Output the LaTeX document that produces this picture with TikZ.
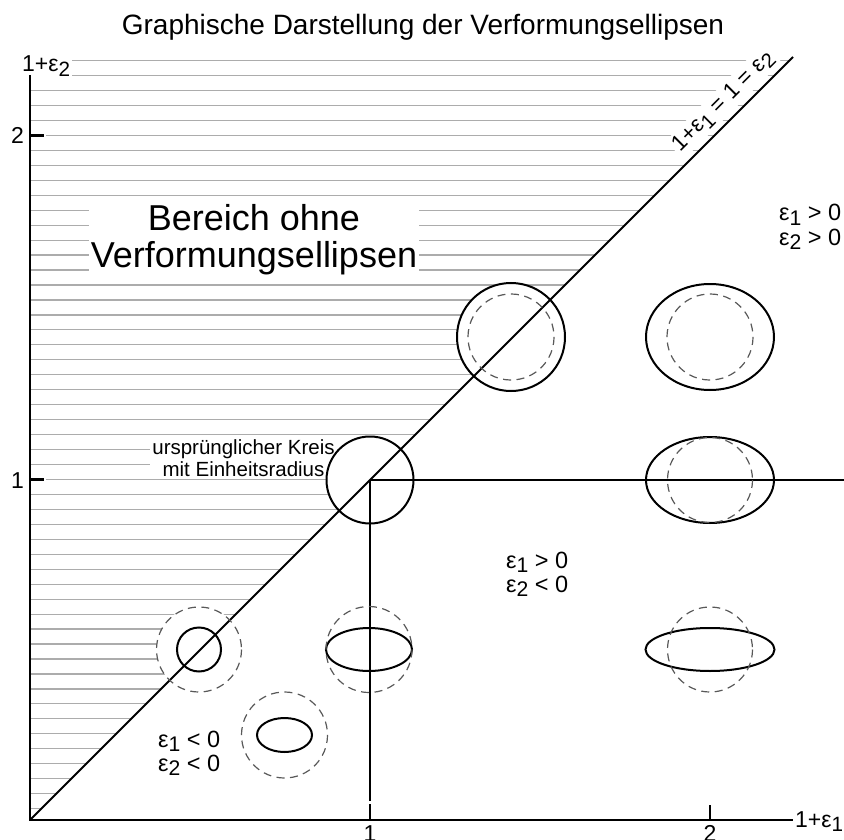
\documentclass[tikz,border=0pt]{standalone}
\usepackage{fontspec}
\setmainfont{Liberation Sans}
\usepackage{graphicx}
\newcommand{\sbd}[1]{\raisebox{-0.2em}{\scalebox{0.9}{#1}}}
\begin{document}
\begin{tikzpicture}[x=1pt,y=-1pt,
  hatch/.style={draw=gray!65, line width=1.2pt},
  axis/.style={draw=black, line width=2.4pt},
  thin axis/.style={draw=black, line width=2pt},
  dcircle/.style={draw=gray!70!black, line width=1.2pt, dash pattern=on 8pt off 5.5pt},
  ecurve/.style={draw=black, line width=2pt},
  lab/.style={inner sep=0pt, font=\fontsize{23.5}{25}\selectfont},
  wlab/.style={fill=white, inner sep=3pt},
  ax label/.style={inner sep=0pt, font=\fontsize{23}{25}\selectfont}
]
\useasboundingbox (0,0) rectangle (844,840);

% hatching of the region without deformation ellipses
\foreach \i in {0,...,50} {
  \pgfmathsetmacro{\yy}{60.6+14.96*\i}
  \pgfmathsetmacro{\xe}{850-\yy}
  \draw[hatch] (30,\yy) -- (\xe,\yy);
}

% white backgrounds of circles in the hatched region
\fill[white] (370,480) circle (43.5);
\fill[white] (511,337) circle (54);
\fill[white] (199,649) circle (42.5);

% title
\node[anchor=base, inner sep=0pt, font=\fontsize{28}{30}\selectfont] (title) at (423,35)
  {Graphische Darstellung der Verformungsellipsen};

% axis labels
\node[ax label, anchor=base west, fill=white, inner xsep=2pt, inner ysep=3pt] (ylab) at (20,71.5) {1+ε\sbd{2}};
\node[ax label, anchor=base east] (y2) at (24,144) {2};
\node[ax label, anchor=base east] (y1) at (24,488) {1};
\node[ax label, anchor=base west] (xlab) at (795,827) {1+ε\sbd{1}};
\node[ax label, anchor=north] (x1) at (370,825) {1};
\node[ax label, anchor=north] (x2) at (710,825) {2};

% diagonal label
\node[wlab, rotate=45, font=\fontsize{22.5}{24}\selectfont] (diaglab) at (723.5,101.5)
  {1+ε\sbd{1} = 1 = ε\sbd{2}};

% region label
\node[wlab, align=center, inner sep=2pt, font=\fontsize{36}{37}\selectfont] (bereich) at (254,240)
  {Bereich ohne\\Verformungsellipsen};

% original circle label
\node[wlab, align=center, inner sep=2pt, font=\fontsize{20.5}{22}\selectfont] (kreis) at (243.5,458)
  {ursprünglicher Kreis\\mit Einheitsradius};

% sign labels
\node[lab, anchor=base west] (ra) at (779,221) {ε\sbd{1} > 0};
\node[lab, anchor=base west] (rb) at (779,245) {ε\sbd{2} > 0};
\node[lab, anchor=base west] (ma) at (506,568) {ε\sbd{1} > 0};
\node[lab, anchor=base west] (mb) at (506,592) {ε\sbd{2} < 0};
\node[lab, anchor=base west] (la) at (158,747) {ε\sbd{1} < 0};
\node[lab, anchor=base west] (lb) at (158,771) {ε\sbd{2} < 0};

% axes
\coordinate (O) at (30,820);
\coordinate (ytop) at (30,75);
\coordinate (xend) at (793,820);
\coordinate (dtop) at (793,57);
\coordinate (P) at (370,480);
\coordinate (hend) at (844,480);
\draw[axis] (ytop) -- (O) -- (xend);
\draw[white, line width=4pt] (31.5,135.5) -- (46,135.5);
\draw[white, line width=4pt] (31.5,479.5) -- (46,479.5);
\draw[axis] (30,135.5) -- (44,135.5);
\draw[axis] (30,479.5) -- (44,479.5);
\draw[thin axis] (710,805) -- (710,820);
\draw[thin axis] (O) -- (dtop);
\draw[thin axis] (P) -- (hend);
\draw[thin axis] (P) -- (370,801);
\draw[thin axis] (370,804) -- (370,820);

% deformation ellipses
\draw[ecurve] (370,480) circle (43.5);

\draw[ecurve] (511,337) circle (54);
\draw[dcircle] (511,337) circle (43);

\draw[ecurve] (710,337) ellipse [x radius=64, y radius=53];
\draw[dcircle] (710,337) circle (43);

\draw[ecurve] (710,480) ellipse [x radius=64, y radius=43];
\draw[dcircle] (710,480) circle (42.5);

\draw[ecurve] (710,649.5) ellipse [x radius=64.5, y radius=21.5];
\draw[dcircle] (710,649.5) circle (42.5);

\draw[ecurve] (369,649.5) ellipse [x radius=43, y radius=21.5];
\draw[dcircle] (369,649.5) circle (43);

\draw[ecurve] (199,649.5) circle (22);
\draw[dcircle] (199,649.5) circle (42.5);

\draw[ecurve] (284.5,735) ellipse [x radius=27.5, y radius=17];
\draw[dcircle] (284.5,735) circle (43);
\end{tikzpicture}
\end{document}
